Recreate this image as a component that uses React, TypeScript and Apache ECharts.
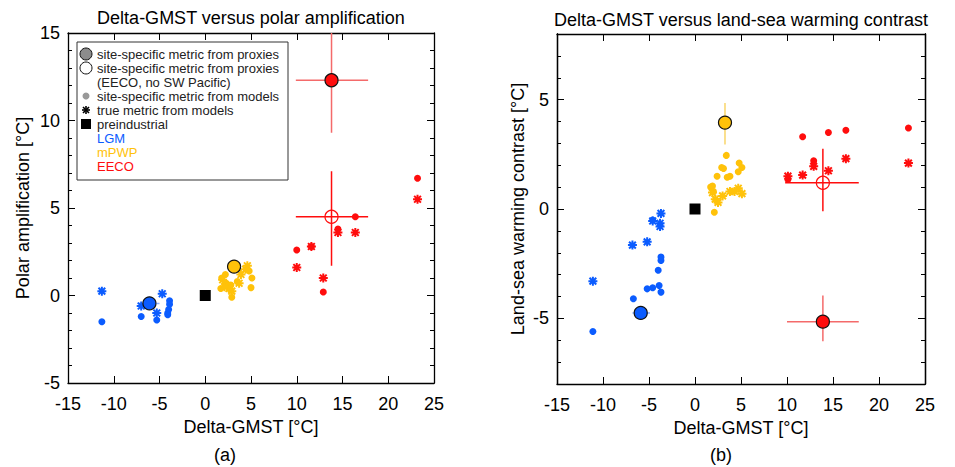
import React, { useEffect, useRef } from 'react';
import * as echarts from 'echarts';

// ---------- Data: panel (a) polar amplification ----------
const paLgmDots = [[-11.3, -1.5], [-7.0, -1.2], [-5.3, -1.4], [-3.9, -0.3], [-3.9, -0.5], [-4.0, -0.8], [-4.1, -1.0], [-4.1, -1.1]];
const paLgmStars = [[-11.3, 0.25], [-7.0, -0.6], [-4.7, 0.1], [-5.3, -1.0]];
const paLgmProxy = [[-6.1, -0.45]];
const paLgmProxyXErr = [-7.4, -5.0];

const paMpwpDots = [[1.8, 1.0], [2.3, 0.7], [1.7, 0.4], [2.9, -0.1], [3.5, 0.8], [2.8, 0.6], [4.8, 1.4], [5.1, 1.0], [5.0, 0.45], [2.2, 1.2]];
const paMpwpStars = [[4.6, 1.7], [3.9, 1.2], [3.7, 0.7], [2.6, 0.4], [2.9, 0.25], [1.9, 0.9], [4.4, 1.5], [2.1, 0.5]];
const paMpwpProxy = [[3.15, 1.65]];

const paEecoDots = [[10.0, 2.6], [11.6, 2.8], [12.9, 0.2], [16.4, 4.5], [14.5, 3.8], [23.2, 6.7]];
const paEecoStars = [[10.0, 1.6], [11.6, 2.8], [12.9, 1.0], [14.5, 3.6], [16.4, 3.6], [23.2, 5.5]];
const paEecoProxy = [[13.8, 12.3]];
const paEecoProxyXErr = [9.9, 17.8];
const paEecoProxyYErr = [9.3, 15];
const paEecoNoSwp = [[13.8, 4.5]];
const paEecoNoSwpXErr = [9.9, 17.8];
const paEecoNoSwpYErr = [1.7, 7.1];

// ---------- Data: panel (b) land-sea warming contrast ----------
const lsLgmDots = [[-11.1, -5.6], [-6.7, -4.1], [-5.2, -3.65], [-4.6, -3.6], [-3.9, -3.5], [-3.7, -3.8], [-4.0, -2.8], [-3.7, -2.35], [-3.7, -2.2], [-4.6, -0.5]];
const lsLgmStars = [[-11.1, -3.3], [-6.8, -1.65], [-5.2, -1.5], [-3.7, -0.2], [-4.6, -0.55], [-3.8, -0.65], [-3.8, -0.8]];
const lsLgmProxy = [[-5.9, -4.75]];
const lsLgmProxyXErr = [-6.8, -4.9];

const lsMpwpDots = [[3.4, 2.45], [2.9, 1.9], [3.1, 1.85], [4.8, 2.1], [5.1, 1.9], [3.8, 1.5], [3.5, 1.45], [4.7, 1.7], [2.4, 1.5], [1.7, 1.0], [1.9, 1.05], [2.1, -0.15], [2.0, 0.8]];
const lsMpwpStars = [[4.7, 0.95], [5.1, 0.7], [3.8, 0.8], [3.0, 0.6], [2.2, 0.45], [1.9, 0.75], [2.5, 0.3], [4.3, 0.8]];
const lsMpwpProxy = [[3.26, 3.95]];
const lsMpwpProxyYErr = [2.95, 4.85];

const lsEecoDots = [[11.7, 3.3], [14.5, 3.5], [16.4, 3.6], [23.2, 3.7], [12.9, 2.2], [10.1, 1.35]];
const lsEecoStars = [[12.9, 1.95], [11.7, 1.55], [10.1, 1.5], [14.5, 1.75], [16.4, 2.3], [23.2, 2.1]];
const lsEecoProxy = [[13.9, -5.15]];
const lsEecoProxyXErr = [10.0, 17.8];
const lsEecoProxyYErr = [-6.05, -3.95];
const lsEecoNoSwp = [[13.9, 1.2]];
const lsEecoNoSwpXErr = [9.8, 17.8];
const lsEecoNoSwpYErr = [-0.1, 2.75];

const xMin = -15, xMax = 25;
const paYMin = -5, paYMax = 15;
const lsYMin = -8, lsYMax = 8;
const lsYLabels = [-5, 0, 5];

const legendLines = [
  'site-specific metric from proxies',
  'site-specific metric from proxies',
  '(EECO, no SW Pacific)',
  'site-specific metric from models',
  'true metric from models',
  'preindustrial',
  'LGM',
  'mPWP',
  'EECO',
];

// ---------- Styles ----------
const BLUE = '#0b5cff';
const YELLOW = '#ffc20a';
const RED = '#ff0d0d';
const BLUE_ERR = '#8fb0ff';
const YELLOW_ERR = '#f9d56a';
const RED_ERR = '#f46a6a';
const FONT = '"Liberation Sans", Arial, Helvetica, sans-serif';
const STAR = 'path://M0,-10L0,10M-10,0L10,0M-7.5,-7.5L7.5,7.5M-7.5,7.5L7.5,-7.5';

function dots(data: number[][], xi: number, yi: number, color: string) {
  return { type: 'scatter', xAxisIndex: xi, yAxisIndex: yi, data, symbol: 'circle', symbolSize: 7, itemStyle: { color, opacity: 1 }, z: 2, silent: true };
}
function stars(data: number[][], xi: number, yi: number, color: string) {
  return { type: 'scatter', xAxisIndex: xi, yAxisIndex: yi, data, symbol: STAR, symbolSize: 9, itemStyle: { color, borderColor: color, borderWidth: 2, opacity: 1 }, z: 3, silent: true };
}
function proxy(data: number[][], xi: number, yi: number, color: string) {
  return { type: 'scatter', xAxisIndex: xi, yAxisIndex: yi, data, symbol: 'circle', symbolSize: 13, itemStyle: { color, borderColor: '#111', borderWidth: 1.2, opacity: 1 }, z: 5, silent: true };
}
function openProxy(data: number[][], xi: number, yi: number, color: string) {
  return { type: 'scatter', xAxisIndex: xi, yAxisIndex: yi, data, symbol: 'circle', symbolSize: 13, itemStyle: { color: 'rgba(255,255,255,0)', borderColor: color, borderWidth: 1.2, opacity: 1 }, z: 5, silent: true };
}
function errLine(data: number[][], xi: number, yi: number, color: string) {
  return { type: 'line', xAxisIndex: xi, yAxisIndex: yi, data, symbol: 'none', lineStyle: { color, width: 1.5 }, z: 1, silent: true, clip: true };
}
function xErr(pt: number[], range: number[], xi: number, yi: number, color: string) {
  return errLine([[range[0], pt[1]], [range[1], pt[1]]], xi, yi, color);
}
function yErr(pt: number[], range: number[], xi: number, yi: number, color: string) {
  return errLine([[pt[0], range[0]], [pt[0], range[1]]], xi, yi, color);
}

const axisLine = { show: true, onZero: false, lineStyle: { color: '#000', width: 1.3 } };
const labelStyle = { color: '#000', fontSize: 18, fontFamily: FONT };

function xAxes(grid: number) {
  return [
    {
      gridIndex: grid, type: 'value', min: xMin, max: xMax, interval: 5, position: 'bottom',
      axisLine, axisTick: { show: true, inside: true, length: 7, lineStyle: { color: '#000' } },
      axisLabel: { ...labelStyle, margin: 12 }, splitLine: { show: false },
      name: 'Delta-GMST [°C]', nameLocation: 'middle', nameGap: 28,
      nameTextStyle: { color: '#000', fontSize: 18, fontFamily: FONT },
    },
    {
      gridIndex: grid, type: 'value', min: xMin, max: xMax, interval: 5, position: 'top',
      axisLine, axisTick: { show: true, inside: true, length: 7, lineStyle: { color: '#000' } },
      axisLabel: { show: false }, splitLine: { show: false },
    },
  ];
}

function legendGraphics() {
  const x0 = 86, tx = 97, y0 = 54, dy = 14;
  const els: any[] = [
    { type: 'rect', shape: { x: 77, y: 42, width: 211, height: 138 }, style: { fill: '#fff', stroke: '#333', lineWidth: 1 }, z: 100 },
    { type: 'circle', shape: { cx: x0, cy: y0, r: 6 }, style: { fill: '#8c8c8c', stroke: '#111', lineWidth: 1 }, z: 101 },
    { type: 'circle', shape: { cx: x0, cy: y0 + dy, r: 6 }, style: { fill: '#fff', stroke: '#111', lineWidth: 1 }, z: 101 },
    { type: 'circle', shape: { cx: x0, cy: y0 + 3 * dy, r: 3.5 }, style: { fill: '#999' }, z: 101 },
    { type: 'rect', shape: { x: x0 - 5, y: y0 + 5 * dy - 5, width: 10, height: 10 }, style: { fill: '#000' }, z: 101 },
  ];
  const sy = y0 + 4 * dy;
  const arms = [[0, -4, 0, 4], [-4, 0, 4, 0], [-3, -3, 3, 3], [-3, 3, 3, -3]];
  arms.forEach((a) => els.push({ type: 'line', shape: { x1: x0 + a[0], y1: sy + a[1], x2: x0 + a[2], y2: sy + a[3] }, style: { stroke: '#000', lineWidth: 1.6 }, z: 101 }));
  const colors = ['#222', '#222', '#222', '#222', '#222', '#222', BLUE, YELLOW, RED];
  legendLines.forEach((t, i) => els.push({
    type: 'text', x: tx, y: y0 + i * dy, z: 101,
    style: { text: t, fill: colors[i], font: `13px ${FONT}`, textVerticalAlign: 'middle', textAlign: 'left' },
  }));
  return els;
}

export default function App() {
  const ref = useRef<HTMLDivElement>(null);
  useEffect(() => {
    const chart = echarts.init(ref.current!, null, { renderer: 'svg' });
    const option: any = {
      animation: false,
      backgroundColor: '#fff',
      grid: [
        { left: 68, top: 33, width: 366, height: 350 },
        { left: 557, top: 34, width: 368, height: 350 },
      ],
      xAxis: [...xAxes(0), ...xAxes(1)],
      yAxis: [
        {
          gridIndex: 0, type: 'value', min: paYMin, max: paYMax, interval: 5, position: 'left',
          axisLine, axisTick: { show: true, inside: true, length: 7, lineStyle: { color: '#000' } },
          minorTick: { show: true, splitNumber: 5, length: 4, lineStyle: { color: '#000' } },
          axisLabel: { ...labelStyle, margin: 8 }, splitLine: { show: false }, minorSplitLine: { show: false },
          name: 'Polar amplification [°C]', nameLocation: 'middle', nameGap: 36, nameRotate: 90,
          nameTextStyle: { color: '#000', fontSize: 18, fontFamily: FONT },
        },
        {
          gridIndex: 0, type: 'value', min: paYMin, max: paYMax, interval: 5, position: 'right',
          axisLine, axisTick: { show: true, inside: true, length: 7, lineStyle: { color: '#000' } },
          minorTick: { show: true, splitNumber: 5, length: 4, lineStyle: { color: '#000' } },
          axisLabel: { show: false }, splitLine: { show: false }, minorSplitLine: { show: false },
        },
        {
          gridIndex: 1, type: 'value', min: lsYMin, max: lsYMax, interval: 1, position: 'left',
          axisLine, axisTick: { show: true, inside: true, length: 4, lineStyle: { color: '#000' } },
          axisLabel: { show: false }, splitLine: { show: false },
        },
        {
          gridIndex: 1, type: 'value', min: lsYMin, max: lsYMax, interval: 1, position: 'left',
          axisLine, axisTick: { show: true, inside: true, length: 7, customValues: lsYLabels, lineStyle: { color: '#000' } },
          axisLabel: { ...labelStyle, margin: 8, customValues: lsYLabels }, splitLine: { show: false },
          name: 'Land-sea warming contrast [°C]', nameLocation: 'middle', nameGap: 30, nameRotate: 90,
          nameTextStyle: { color: '#000', fontSize: 18, fontFamily: FONT },
        },
        {
          gridIndex: 1, type: 'value', min: lsYMin, max: lsYMax, interval: 1, position: 'right',
          axisLine, axisTick: { show: true, inside: true, length: 4, lineStyle: { color: '#000' } },
          axisLabel: { show: false }, splitLine: { show: false },
        },
        {
          gridIndex: 1, type: 'value', min: lsYMin, max: lsYMax, interval: 1, position: 'right',
          axisLine, axisTick: { show: true, inside: true, length: 7, customValues: lsYLabels, lineStyle: { color: '#000' } },
          axisLabel: { show: false }, splitLine: { show: false },
        },
      ],
      series: [
        // panel a
        xErr(paLgmProxy[0], paLgmProxyXErr, 0, 0, BLUE_ERR),
        xErr(paEecoProxy[0], paEecoProxyXErr, 0, 0, RED_ERR),
        yErr(paEecoProxy[0], paEecoProxyYErr, 0, 0, RED_ERR),
        xErr(paEecoNoSwp[0], paEecoNoSwpXErr, 0, 0, RED),
        yErr(paEecoNoSwp[0], paEecoNoSwpYErr, 0, 0, RED),
        dots(paLgmDots, 0, 0, BLUE),
        stars(paLgmStars, 0, 0, BLUE),
        dots(paMpwpDots, 0, 0, YELLOW),
        stars(paMpwpStars, 0, 0, YELLOW),
        dots(paEecoDots, 0, 0, RED),
        stars(paEecoStars, 0, 0, RED),
        { type: 'scatter', xAxisIndex: 0, yAxisIndex: 0, data: [[0, 0]], symbol: 'rect', symbolSize: 11, itemStyle: { color: '#000', opacity: 1 }, z: 4, silent: true },
        proxy(paLgmProxy, 0, 0, BLUE),
        proxy(paMpwpProxy, 0, 0, YELLOW),
        proxy(paEecoProxy, 0, 0, RED),
        openProxy(paEecoNoSwp, 0, 0, RED),
        // panel b
        xErr(lsLgmProxy[0], lsLgmProxyXErr, 2, 2, BLUE_ERR),
        yErr(lsMpwpProxy[0], lsMpwpProxyYErr, 2, 2, YELLOW_ERR),
        xErr(lsEecoProxy[0], lsEecoProxyXErr, 2, 2, RED_ERR),
        yErr(lsEecoProxy[0], lsEecoProxyYErr, 2, 2, RED_ERR),
        xErr(lsEecoNoSwp[0], lsEecoNoSwpXErr, 2, 2, RED),
        yErr(lsEecoNoSwp[0], lsEecoNoSwpYErr, 2, 2, RED),
        dots(lsLgmDots, 2, 2, BLUE),
        stars(lsLgmStars, 2, 2, BLUE),
        dots(lsMpwpDots, 2, 2, YELLOW),
        stars(lsMpwpStars, 2, 2, YELLOW),
        dots(lsEecoDots, 2, 2, RED),
        stars(lsEecoStars, 2, 2, RED),
        { type: 'scatter', xAxisIndex: 2, yAxisIndex: 2, data: [[0, 0]], symbol: 'rect', symbolSize: 11, itemStyle: { color: '#000', opacity: 1 }, z: 4, silent: true },
        proxy(lsLgmProxy, 2, 2, BLUE),
        proxy(lsMpwpProxy, 2, 2, YELLOW),
        proxy(lsEecoProxy, 2, 2, RED),
        openProxy(lsEecoNoSwp, 2, 2, RED),
      ],
      graphic: [
        { type: 'text', x: 251, y: 18, style: { text: 'Delta-GMST versus polar amplification', fill: '#000', font: `18px ${FONT}`, textAlign: 'center', textVerticalAlign: 'middle' } },
        { type: 'text', x: 741, y: 20, style: { text: 'Delta-GMST versus land-sea warming contrast', fill: '#000', font: `18px ${FONT}`, textAlign: 'center', textVerticalAlign: 'middle' } },
        { type: 'text', x: 225, y: 455, style: { text: '(a)', fill: '#000', font: `18px ${FONT}`, textAlign: 'center', textVerticalAlign: 'middle' } },
        { type: 'text', x: 721, y: 455, style: { text: '(b)', fill: '#000', font: `18px ${FONT}`, textAlign: 'center', textVerticalAlign: 'middle' } },
        ...legendGraphics(),
      ],
    };
    chart.setOption(option);
    return () => chart.dispose();
  }, []);
  return <div ref={ref} style={{ position: 'fixed', left: 0, top: 0, width: 955, height: 467, background: '#fff' }} />;
}
